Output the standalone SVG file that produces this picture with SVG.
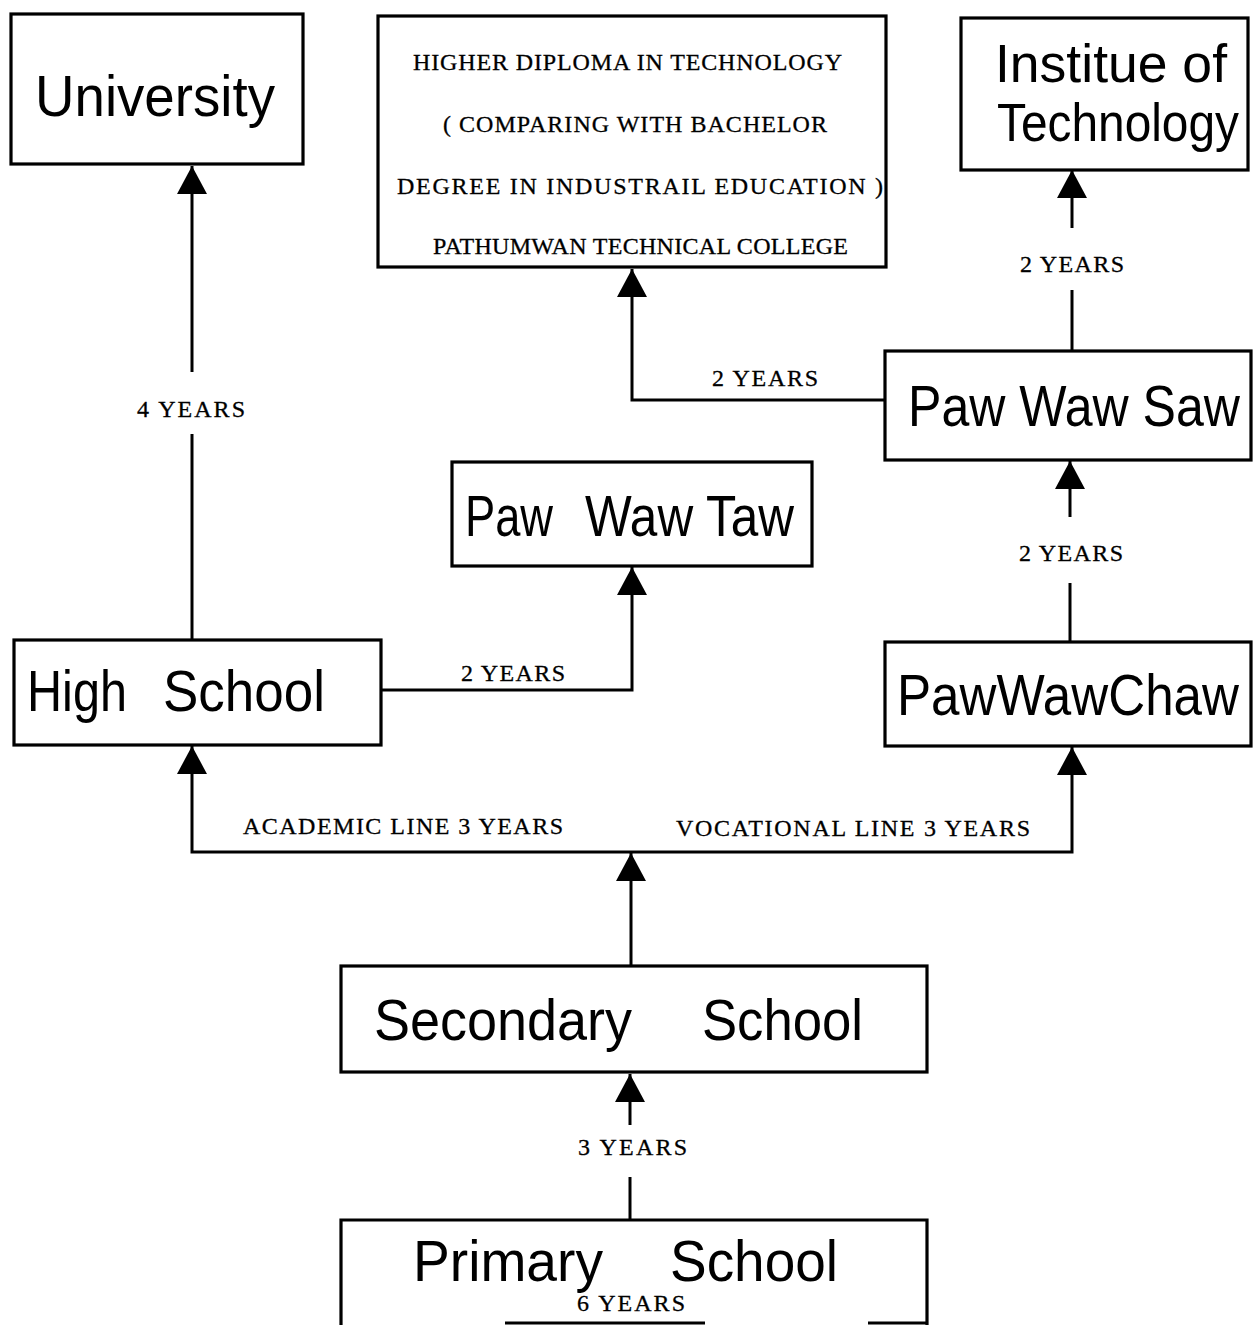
<svg xmlns="http://www.w3.org/2000/svg" width="1258" height="1325" viewBox="0 0 1258 1325">
<style>
.box{fill:#fff;stroke:#000;stroke-width:3.2}
.lbl{font-family:"Liberation Sans",Arial,sans-serif;font-size:58px;fill:#000}
.tw{font-family:"Liberation Serif","Times New Roman",serif;font-size:24px;fill:#000;stroke:#000;stroke-width:0.3}
.ln{fill:none;stroke:#000;stroke-width:3}
.arr{marker-end:url(#ah)}
</style>
<defs>
<marker id="ah" viewBox="0 0 28 30" refX="28" refY="15" markerWidth="28" markerHeight="30" markerUnits="userSpaceOnUse" orient="auto">
<path d="M0,0 L28,15 L0,30 z" fill="#000"/>
</marker>
</defs>
<rect width="1258" height="1325" fill="#fff"/>

<g id="connectors">
<path class="ln arr" d="M192,372 L192,166"/>
<path class="ln" d="M192,434 L192,640"/>
<path class="ln arr" d="M885,400 L632,400 L632,269"/>
<path class="ln arr" d="M1072,228 L1072,170"/>
<path class="ln" d="M1072,290 L1072,351"/>
<path class="ln arr" d="M1070,517 L1070,461"/>
<path class="ln" d="M1070,583 L1070,642"/>
<path class="ln arr" d="M381,690 L632,690 L632,567"/>
<path class="ln arr" d="M631,852 L192,852 L192,746"/>
<path class="ln arr" d="M631,852 L1072,852 L1072,747"/>
<path class="ln arr" d="M631,966 L631,853"/>
<path class="ln arr" d="M630,1125 L630,1074"/>
<path class="ln" d="M630,1177 L630,1220"/>
<text class="tw" x="137" y="417" textLength="108" lengthAdjust="spacing">4 YEARS</text>
<text class="tw" x="712" y="386" textLength="106" lengthAdjust="spacing">2 YEARS</text>
<text class="tw" x="1020" y="272" textLength="104" lengthAdjust="spacing">2 YEARS</text>
<text class="tw" x="1019" y="561" textLength="104" lengthAdjust="spacing">2 YEARS</text>
<text class="tw" x="461" y="681" textLength="104" lengthAdjust="spacing">2 YEARS</text>
<text class="tw" x="243" y="834" textLength="320" lengthAdjust="spacing">ACADEMIC LINE 3 YEARS</text>
<text class="tw" x="676" y="836" textLength="354" lengthAdjust="spacing">VOCATIONAL LINE 3 YEARS</text>
<text class="tw" x="578" y="1155" textLength="109" lengthAdjust="spacing">3 YEARS</text>
</g>

<g id="university">
<rect class="box" x="11" y="14" width="292" height="150"/>
<text class="lbl" x="35" y="116" textLength="240" lengthAdjust="spacingAndGlyphs">University</text>
</g>

<g id="higher-diploma">
<rect class="box" x="378" y="16" width="508" height="251"/>
<text class="tw" x="413" y="70" textLength="429" lengthAdjust="spacing">HIGHER DIPLOMA IN TECHNOLOGY</text>
<text class="tw" x="443" y="132" textLength="384" lengthAdjust="spacing">( COMPARING WITH BACHELOR</text>
<text class="tw" x="397" y="194" textLength="486" lengthAdjust="spacing">DEGREE IN INDUSTRAIL EDUCATION )</text>
<text class="tw" x="433" y="254" textLength="415" lengthAdjust="spacing">PATHUMWAN TECHNICAL COLLEGE</text>
</g>

<g id="institute">
<rect class="box" x="961" y="18" width="287" height="152"/>
<text class="lbl" style="font-size:47px" transform="translate(995,82) scale(1,1.15)" x="0" y="0" textLength="232" lengthAdjust="spacingAndGlyphs">Institue of</text>
<text class="lbl" style="font-size:47px" transform="translate(997,141) scale(1,1.15)" x="0" y="0" textLength="242" lengthAdjust="spacingAndGlyphs">Technology</text>
</g>

<g id="paw-waw-saw">
<rect class="box" x="885" y="351" width="366" height="109"/>
<text class="lbl" style="font-size:50px" transform="translate(908,426) scale(1,1.16)" x="0" y="0" textLength="332" lengthAdjust="spacingAndGlyphs">Paw Waw Saw</text>
</g>

<g id="paw-waw-taw">
<rect class="box" x="452" y="462" width="360" height="104"/>
<text class="lbl" y="536"><tspan x="465" textLength="88" lengthAdjust="spacingAndGlyphs">Paw</tspan> <tspan x="585" textLength="209" lengthAdjust="spacingAndGlyphs">Waw Taw</tspan></text>
</g>

<g id="high-school">
<rect class="box" x="14" y="640" width="367" height="105"/>
<text class="lbl" y="711"><tspan x="27" textLength="100" lengthAdjust="spacingAndGlyphs">High</tspan> <tspan x="163" textLength="162" lengthAdjust="spacingAndGlyphs">School</tspan></text>
</g>

<g id="paw-waw-chaw">
<rect class="box" x="885" y="642" width="366" height="104"/>
<text class="lbl" style="font-size:51px" transform="translate(897,715) scale(1,1.137)" x="0" y="0" textLength="342" lengthAdjust="spacingAndGlyphs">PawWawChaw</text>
</g>

<g id="secondary-school">
<rect class="box" x="341" y="966" width="586" height="106"/>
<text class="lbl" y="1040"><tspan x="374" textLength="258" lengthAdjust="spacingAndGlyphs">Secondary</tspan> <tspan x="702" textLength="161" lengthAdjust="spacingAndGlyphs">School</tspan></text>
</g>

<g id="primary-school">
<path class="box" d="M341,1328 L341,1220 L927,1220 L927,1328"/>
<path class="ln" d="M505,1323 L705,1323 M868,1323 L927,1323"/>
<text class="lbl" y="1281"><tspan x="413" textLength="190" lengthAdjust="spacingAndGlyphs">Primary</tspan> <tspan x="670" textLength="168" lengthAdjust="spacingAndGlyphs">School</tspan></text>
<text class="tw" x="577" y="1311" textLength="108" lengthAdjust="spacing">6 YEARS</text>
</g>
</svg>
